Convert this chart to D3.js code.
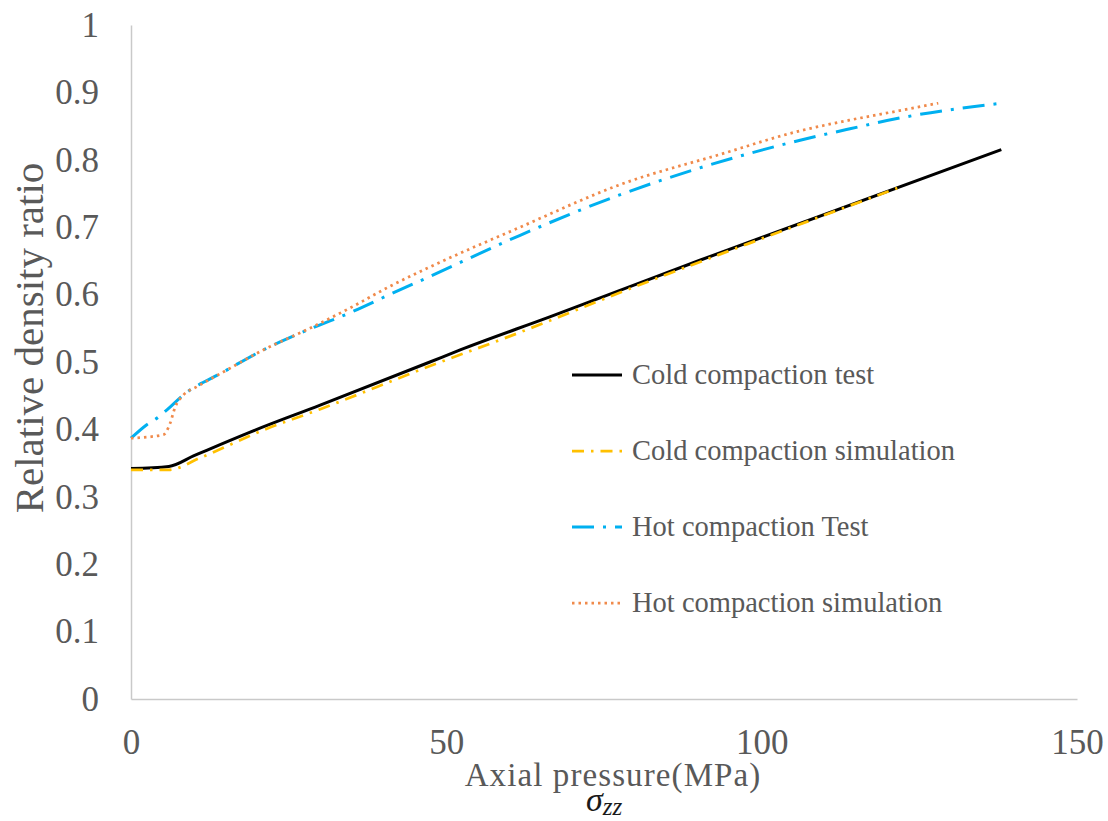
<!DOCTYPE html>
<html>
<head>
<meta charset="utf-8">
<script src="https://cdn.jsdelivr.net/npm/d3@7"></script>
<style>
  html, body { margin: 0; padding: 0; background: #fff; }
  svg { display: block; font-family: "Liberation Serif", "Times New Roman", serif; }
</style>
</head>
<body>
<div id="chart"></div>
<script>
// values
var pressureColdTest = [0, 6, 10, 12, 18.9, 30, 47.4, 52.2, 66.4, 90.2, 138];
var densityColdTest = [0.342, 0.345, 0.361, 0.369, 0.396, 0.436, 0.500, 0.518, 0.567, 0.651, 0.815];

var pressureColdSim = [0, 6, 11, 21, 30, 47.4, 60, 80, 100, 121.5];
var densityColdSim = [0.340, 0.340, 0.358, 0.399, 0.430, 0.494, 0.538, 0.612, 0.683, 0.758];

var pressureHotTest = [0, 2.5, 4.3, 5.7, 8.3, 14.6, 21, 27.9, 34.7, 41, 47.4, 61.7, 77.5, 90.2, 106.1, 114, 121.9, 138];
var densityHotTest = [0.387, 0.407, 0.418, 0.429, 0.451, 0.485, 0.518, 0.547, 0.573, 0.600, 0.627, 0.688, 0.748, 0.788, 0.829, 0.846, 0.862, 0.884];

var pressureHotSim = [0, 5.1, 6.2, 7.0, 8.3, 10.4, 14.6, 21, 27.9, 34.7, 41, 47.4, 61.7, 77.5, 93.4, 106.1, 114, 121.9, 128];
var densityHotSim = [0.387, 0.392, 0.409, 0.433, 0.451, 0.463, 0.485, 0.518, 0.548, 0.580, 0.612, 0.641, 0.700, 0.763, 0.808, 0.843, 0.859, 0.873, 0.884];

var seriesNames = ["Cold compaction test", "Cold compaction simulation", "Hot compaction Test", "Hot compaction simulation"];
var xTicks = [0, 50, 100, 150];
var yTicks = [0, 0.1, 0.2, 0.3, 0.4, 0.5, 0.6, 0.7, 0.8, 0.9, 1];

var width = 1108, height = 821;
var margin = { top: 25, right: 31, bottom: 122, left: 131 };

var svg = d3.select("#chart").append("svg")
    .attr("width", width)
    .attr("height", height);

var x = d3.scaleLinear().domain([0, 150]).range([margin.left, width - margin.right]);
var y = d3.scaleLinear().domain([0, 1]).range([height - margin.bottom, margin.top]);

var fmt = d3.format("~g");

// axes
var gx = svg.append("g")
    .attr("transform", "translate(0," + y(0) + ")")
    .call(d3.axisBottom(x).tickValues(xTicks).tickSize(0).tickPadding(30).tickFormat(fmt));
var gy = svg.append("g")
    .attr("transform", "translate(" + x(0) + ",0)")
    .call(d3.axisLeft(y).tickValues(yTicks).tickSize(0).tickPadding(32).tickFormat(fmt));

[gx, gy].forEach(function (g) {
    g.select(".domain").attr("stroke", "#c9c9c9").attr("stroke-width", 1.5);
    g.selectAll("text")
        .attr("fill", "#595959")
        .style("font-size", "35px")
        .style("font-family", "'Liberation Serif', serif");
});

// series
var series = [
    { name: seriesNames[0], xs: pressureColdTest, ys: densityColdTest, color: "#000000", dash: null, w: 3 },
    { name: seriesNames[1], xs: pressureColdSim, ys: densityColdSim, color: "#FFC000", dash: "12,7,2.5,7", w: 2.75 },
    { name: seriesNames[2], xs: pressureHotTest, ys: densityHotTest, color: "#00B0F0", dash: "22,9,3,9", w: 3 },
    { name: seriesNames[3], xs: pressureHotSim, ys: densityHotSim, color: "#F08A4B", dash: "2.5,4", w: 2.75 }
];

var line = d3.line()
    .x(function (d) { return x(d[0]); })
    .y(function (d) { return y(d[1]); })
    .curve(d3.curveMonotoneX);

svg.append("g").attr("class", "lines")
    .selectAll("path")
    .data(series)
    .enter().append("path")
    .attr("fill", "none")
    .attr("stroke", function (d) { return d.color; })
    .attr("stroke-width", function (d) { return d.w; })
    .attr("stroke-dasharray", function (d) { return d.dash; })
    .attr("d", function (d) { return line(d3.zip(d.xs, d.ys)); });

// legend
var legendRows = [375, 451, 527, 603];
var legend = svg.append("g").attr("class", "legend")
    .selectAll("g")
    .data(series)
    .enter().append("g")
    .attr("transform", function (d, i) { return "translate(572," + legendRows[i] + ")"; });
legend.append("line")
    .attr("x1", 0).attr("x2", 50)
    .attr("stroke", function (d) { return d.color; })
    .attr("stroke-width", function (d) { return d.w; })
    .attr("stroke-dasharray", function (d) { return d.dash; });
legend.append("text")
    .attr("x", 60)
    .attr("dy", "0.33em")
    .attr("fill", "#595959")
    .style("font-size", "28.5px")
    .text(function (d) { return d.name; });

// axis titles
svg.append("text")
    .attr("x", 613).attr("y", 786)
    .attr("text-anchor", "middle")
    .attr("fill", "#595959")
    .style("font-size", "33px")
    .style("letter-spacing", "1.1px")
    .text("Axial pressure(MPa)");

var sig = svg.append("text")
    .attr("x", 586).attr("y", 811)
    .attr("fill", "#1a1a1a")
    .style("font-style", "italic")
    .style("font-size", "34px");
sig.append("tspan").text("σ");
sig.append("tspan").attr("dy", 4).style("font-size", "25px").text("zz");

svg.append("text")
    .attr("transform", "translate(43,338) rotate(-90)")
    .attr("text-anchor", "middle")
    .attr("fill", "#595959")
    .style("font-size", "41px")
    .text("Relative density ratio");
</script>
</body>
</html>
